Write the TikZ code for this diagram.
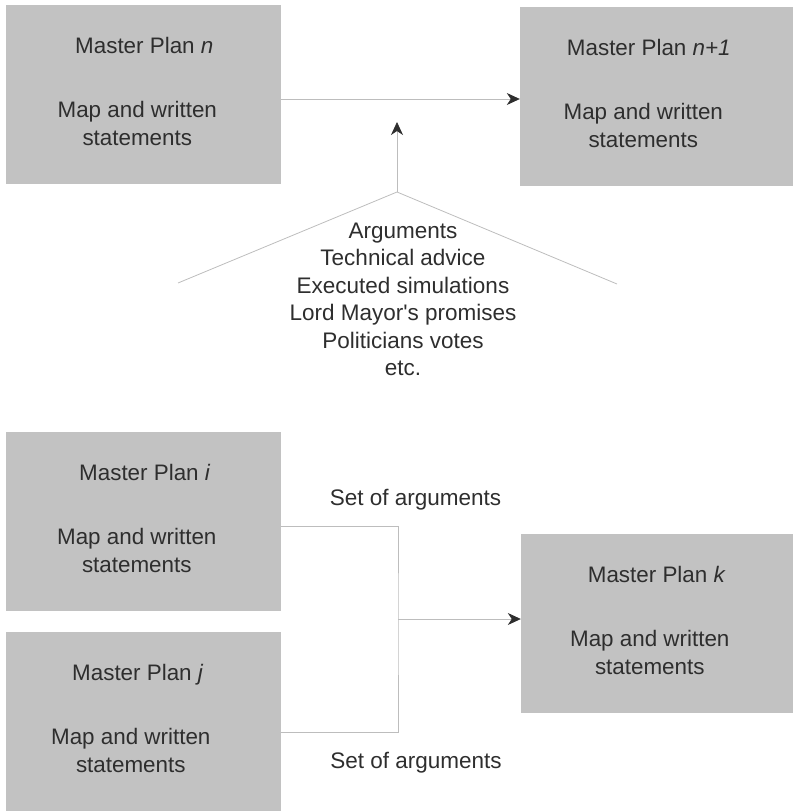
\documentclass[tikz,border=0pt]{standalone}
\usepackage{fontspec}
\setmainfont{Liberation Sans}
\usetikzlibrary{arrows.meta}

\definecolor{boxgray}{gray}{0.76}
\definecolor{inkgray}{gray}{0.18}
\definecolor{wiregray}{gray}{0.74}

\begin{document}
\begin{tikzpicture}[x=1pt,y=-1pt,
  plan/.style={fill=boxgray,minimum height=179pt,inner sep=0pt},
  head/.style={anchor=base,text=inkgray,font=\fontsize{22.4}{28}\selectfont},
  body/.style={anchor=base,align=center,text=inkgray,font=\fontsize{22.4}{28}\selectfont},
  list/.style={anchor=base,align=center,text=inkgray,font=\fontsize{22.5}{27.5}\selectfont},
  link/.style={wiregray,line width=0.8pt},
  arr/.style={link,-{Stealth[length=13pt,width=12pt,inset=4pt,inkgray]}}]
  \useasboundingbox (0,0) rectangle (793,811);
  % plan boxes: name/left/top/width/index/title offset/body offset
  % (base of a multi-line node sits on its last line)
  \foreach \nm/\lx/\ty/\w/\idx/\tx/\bx in {pn/6/5/275/n/138.5/131.5, pn1/520/7/273/n+1/129/123.5,
      pi/6/432/275/i/139/131, pj/6/632/275/j/132/125, pk/521/534/272/k/136/129}{
    \node[plan,minimum width=\w] (\nm) at (\lx+\w/2,\ty+89.5) {};
    \node[head] at ([shift={(\tx,49)}]\nm.north west) {Master Plan \textit{\idx}};
    \node[body] at ([shift={(\bx,141)}]\nm.north west) {Map and written\\statements};
  }
  % revision n -> n+1, fed by the fan of arguments
  \draw[arr] ([yshift=-4.5pt]pn.east) -- ([yshift=-4.5pt]pn.east -| pn1.west);
  \coordinate (fork) at (397,192); \coordinate (tip) at (397,122);
  \coordinate (lfoot) at (178,283); \coordinate (rfoot) at (617,284);
  \draw[link] (lfoot) -- (fork) -- (rfoot);
  \draw[arr] (fork) -- (tip);
  \node[list] (args) at (403,375.5) {Arguments\\Technical advice\\Executed simulations\\Lord Mayor\textquotesingle s promises\\Politicians votes\\etc.};
  % i and j merged into k
  \coordinate (join) at (398,619);
  \draw[link] ([yshift=-4.5pt]pi.east) -| (join) |- ([yshift=-10.5pt]pj.east);
  \draw[arr] (join) -- (join -| pk.west);
  \node[list] (topset) at (415.5,505) {Set of arguments};
  \node[list] (botset) at (416,768) {Set of arguments};
\end{tikzpicture}
\end{document}
